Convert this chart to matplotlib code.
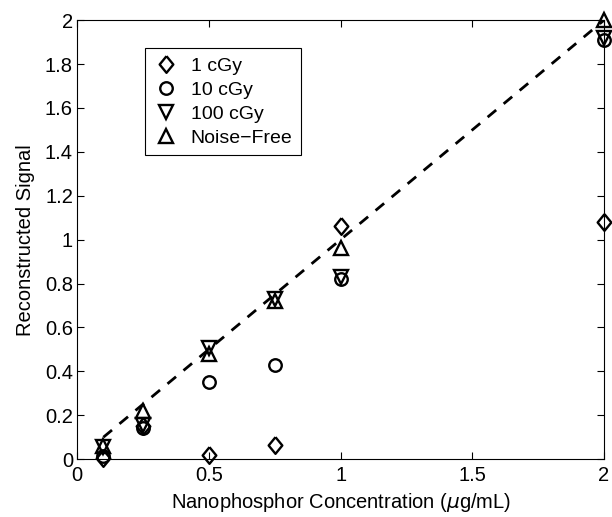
import matplotlib
matplotlib.use("Agg")
import matplotlib.pyplot as plt
from matplotlib.ticker import FuncFormatter

plt.rcParams["font.family"] = ["Liberation Sans", "DejaVu Sans"]

# ─── Data ────────────────────────────────────────────────────────────────────
conc       = [0.1, 0.25, 0.5, 0.75, 1.0, 2.0]
sig_1cgy   = [0.005, 0.15, 0.02, 0.065, 1.06, 1.08]
sig_10cgy  = [0.015, 0.14, 0.35, 0.43, 0.82, 1.91]
sig_100cgy = [0.055, 0.155, 0.505, 0.73, 0.83, 1.92]
sig_free   = [0.06, 0.22, 0.48, 0.72, 0.96, 2.0]
ideal_x    = [0.1, 2.0]
ideal_y    = [0.1, 2.0]

FS = 14.5

# matlab-ish diamond (a bit taller than wide)
diamond = [(0, 1), (0.82, 0), (0, -1), (-0.82, 0), (0, 1)]

fig = plt.figure(figsize=(6.12, 5.17), dpi=100)
ax = fig.add_axes([0.126, 0.112, 0.861, 0.849])

ax.plot(ideal_x, ideal_y, "k--", lw=2, dashes=(4, 3.5))

mk = dict(linestyle="none", color="k", markerfacecolor="none",
          markeredgewidth=1.7, clip_on=False)
ax.plot(conc, sig_1cgy,   marker=diamond, ms=12, label="1 cGy", **mk)
ax.plot(conc, sig_10cgy,  marker="o", ms=9, label="10 cGy", **mk)
ax.plot(conc, sig_100cgy, marker="v", ms=10, label="100 cGy", **mk)
ax.plot(conc, sig_free,   marker="^", ms=10, label="Noise\u2212Free", **mk)

ax.set_xlim(0, 2)
ax.set_ylim(0, 2)
ax.set_xticks([0, 0.5, 1, 1.5, 2])
ax.set_yticks([0, 0.2, 0.4, 0.6, 0.8, 1, 1.2, 1.4, 1.6, 1.8, 2])
fmt = FuncFormatter(lambda v, p: f"{v:g}")
ax.xaxis.set_major_formatter(fmt)
ax.yaxis.set_major_formatter(fmt)
ax.tick_params(direction="in", top=True, right=True, labelsize=FS, length=5)
ax.tick_params(axis="x", pad=5)
ax.tick_params(axis="y", pad=3)

ax.set_xlabel("Nanophosphor Concentration ($\\mu$g/mL)", fontsize=FS,
              labelpad=4)
ax.set_ylabel("Reconstructed Signal", fontsize=FS, labelpad=7)

leg = ax.legend(loc="upper left", bbox_to_anchor=(0.129, 0.936), fontsize=14,
                fancybox=False, framealpha=1, edgecolor="k",
                borderaxespad=0, handlelength=1.2, handletextpad=0.7,
                borderpad=0.45, labelspacing=0.33)
leg.get_frame().set_linewidth(0.8)

fig.savefig("out.png", dpi=100)
